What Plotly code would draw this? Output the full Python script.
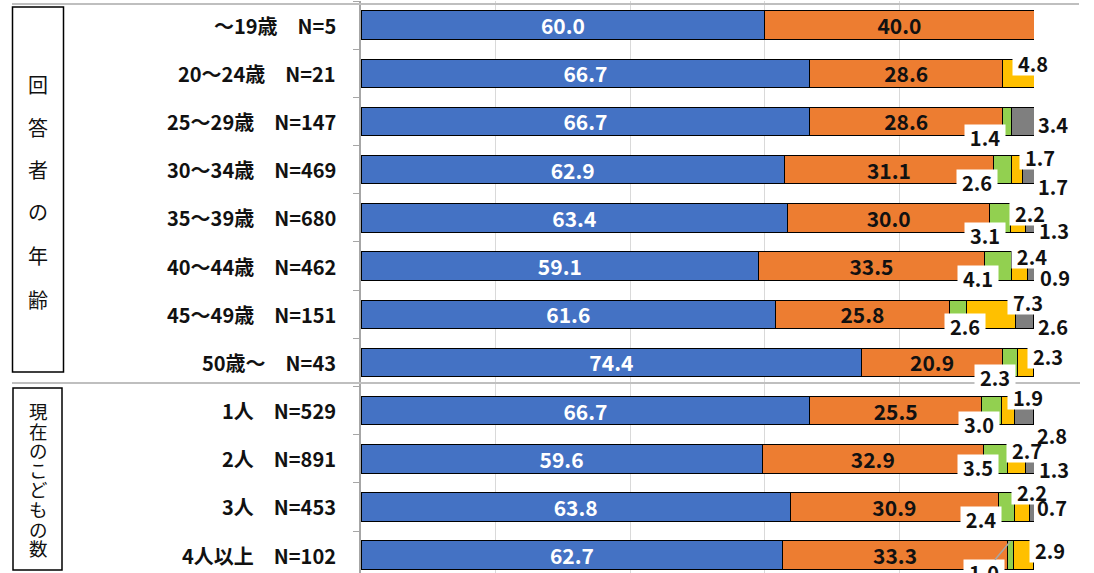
import plotly.graph_objects as go

# ---- data ----
groups = ["〜19歳", "20〜24歳", "25〜29歳", "30〜34歳", "35〜39歳", "40〜44歳",
          "45〜49歳", "50歳〜", "1人", "2人", "3人", "4人以上"]
n_values = [5, 21, 147, 469, 680, 462, 151, 43, 529, 891, 453, 102]
blue = [60.0, 66.7, 66.7, 62.9, 63.4, 59.1, 61.6, 74.4, 66.7, 59.6, 63.8, 62.7]
orange = [40.0, 28.6, 28.6, 31.1, 30.0, 33.5, 25.8, 20.9, 25.5, 32.9, 30.9, 33.3]
green = [0, 0, 1.4, 2.6, 3.1, 4.1, 2.6, 2.3, 3.0, 3.5, 2.4, 1.0]
yellow = [0, 4.8, 0, 1.7, 2.2, 2.4, 7.3, 2.3, 1.9, 2.7, 2.2, 2.9]
gray = [0, 0, 3.4, 1.7, 1.3, 0.9, 2.6, 0, 2.8, 1.3, 0.7, 0]

age_title = "回答者の年齢"
kids_title = "現在のこどもの数"

# ---- layout constants ----
W, H = 1094, 573
ML, MR, MT, MB = 361, 60, 1, 0
PW, PH = W - ML - MR, H - MT - MB
FONT = "Noto Sans CJK JP"
COLORS = ["#4472C4", "#ED7D31", "#92D050", "#FFC000", "#7F7F7F"]

# pixel offsets (dx right, dy down) of the small-segment labels from segment centre
GREEN_OFF = {2: (-22, 16), 3: (-25, 12), 4: (-15, 17), 5: (-20, 12), 6: (7, 12),
             7: (-15, 15), 8: (-13, 13), 9: (-17, 8), 10: (-25, 12)}
YELLOW_OFF = {1: (14, -10), 3: (23, -13), 4: (12, -5), 5: (12, -10), 6: (37, -12),
              7: (22, -6), 8: (20, -14), 9: (11, -9), 10: (10, -15), 11: (26, -5)}
GRAY_OFF = {2: (30, 3), 3: (25, 17), 4: (24, 13), 5: (24, 11), 6: (28, 12),
            8: (28, 25), 9: (24, 11), 10: (20, 1)}
LEADER_ROW = 11   # thin green segment labelled through a leader line


def px_x(px):
    return (px - ML) / PW


def px_y(py):
    return (H - MB - py) / PH


cats = [f"{g}　N={n}" for g, n in zip(groups, n_values)]
series = [blue, orange, green, yellow, gray]

fig = go.Figure()
for i, vals in enumerate(series):
    xs = [v if v > 0 else None for v in vals]
    if i < 2:
        kw = dict(text=[f"{v:.1f}" for v in vals], textposition="inside",
                  insidetextanchor="middle",
                  textfont=dict(family=FONT, size=21,
                                color="white" if i == 0 else "#111111", weight="bold"))
    else:
        kw = dict(textposition="none")
    fig.add_trace(go.Bar(
        y=cats, x=xs, orientation="h",
        marker=dict(color=COLORS[i], line=dict(color="black", width=1)),
        constraintext="none", textangle=0, cliponaxis=False,
        hoverinfo="skip", showlegend=False, **kw))

annotations = []
label_font = dict(family=FONT, size=20, color="#111111", weight="bold")
box = dict(bgcolor="white", width=36, height=20, borderpad=2)

# labels for the narrow segments; gray labels sit outside the bars without a box
for s, vals, offs, style in [(2, green, GREEN_OFF, box), (3, yellow, YELLOW_OFF, box),
                             (4, gray, GRAY_OFF, {})]:
    for r, v in enumerate(vals):
        if v <= 0 or r not in offs:
            continue
        start = sum(series[k][r] for k in range(s))
        centre = start + v / 2
        dx, dy = offs[r]
        annotations.append(dict(
            x=centre, y=cats[r], xref="x", yref="y", xshift=dx, yshift=-dy,
            text=f"{v:.1f}", font=label_font, showarrow=False, **style))

# leader-line label for the thin green segment
r = LEADER_ROW
centre = blue[r] + orange[r] + green[r] / 2
annotations.append(dict(
    x=centre, y=r - 0.29, xref="x", yref="y",
    text=f"{green[r]:.1f}", font=label_font, showarrow=True, arrowhead=0,
    arrowcolor="#a6a6a6", arrowwidth=1.5, ax=-26, ay=31, **box))

# category labels
for c in cats:
    annotations.append(dict(
        x=px_x(338), y=c, xref="paper", yref="y", xanchor="right", yanchor="middle",
        text=c, showarrow=False,
        font=dict(family=FONT, size=20, color="#111111", weight="bold")))

# vertical group titles
age_y = [84, 127, 170, 212, 255, 299]
for ch, py in zip(age_title, age_y):
    annotations.append(dict(x=px_x(38), y=px_y(py), xref="paper", yref="paper",
                            xanchor="center", yanchor="middle",
                            text=ch, showarrow=False,
                            font=dict(family=FONT, size=20, color="#111111")))
for k, ch in enumerate(kids_title):
    annotations.append(dict(x=px_x(38), y=px_y(411 + k * 19.6), xref="paper", yref="paper",
                            xanchor="center", yanchor="middle",
                            text=ch, showarrow=False,
                            font=dict(family=FONT, size=18.5, color="#111111")))

shapes = [
    dict(type="line", xref="paper", yref="paper", x0=px_x(12), x1=px_x(1079),
         y0=px_y(4), y1=px_y(4), line=dict(color="#bfbfbf", width=2)),
    dict(type="line", xref="paper", yref="paper", x0=px_x(12), x1=px_x(1080),
         y0=px_y(383), y1=px_y(383), line=dict(color="#bfbfbf", width=2)),
    dict(type="rect", xref="paper", yref="paper", x0=px_x(12.5), x1=px_x(63.5),
         y0=px_y(372), y1=px_y(7), line=dict(color="black", width=1.5)),
    dict(type="rect", xref="paper", yref="paper", x0=px_x(13), x1=px_x(62),
         y0=px_y(570), y1=px_y(388), line=dict(color="black", width=1.5)),
]

fig.update_layout(
    width=W, height=H, barmode="stack", bargap=0.41,
    margin=dict(l=ML, r=MR, t=MT, b=MB, pad=0),
    paper_bgcolor="white", plot_bgcolor="white",
    annotations=annotations, shapes=shapes,
    xaxis=dict(range=[0, 100], dtick=20, showgrid=True, gridcolor="#d9d9d9",
               gridwidth=1, zeroline=False, showticklabels=False, fixedrange=True),
    yaxis=dict(type="category", range=[11.37, -0.5], showline=True, linecolor="#a6a6a6",
               linewidth=1.5, ticks="outside", tickson="boundaries", ticklen=6,
               tickcolor="#a6a6a6", showticklabels=False, showgrid=False,
               fixedrange=True),
)

fig.write_html("out.html")
